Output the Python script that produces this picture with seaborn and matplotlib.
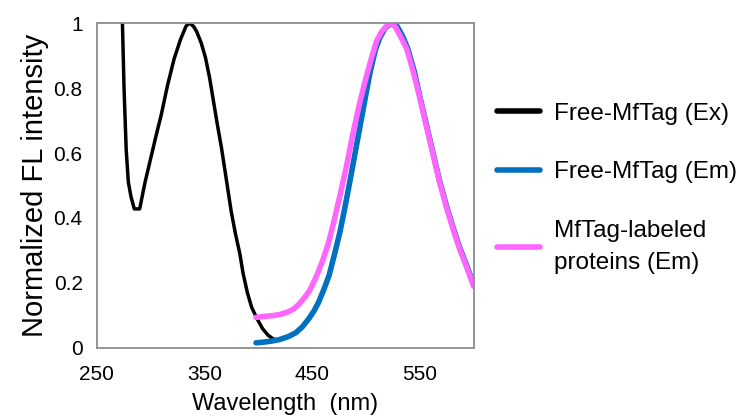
import numpy as np
import pandas as pd
import matplotlib
matplotlib.use("Agg")
import matplotlib.pyplot as plt
import seaborn as sns

# =========================
# DATA
# =========================
ex_nm = [272, 274, 275.5, 277.5, 279.5, 282, 285, 290, 295, 300, 305, 310, 316, 322,
         328, 333, 336, 340, 343, 347, 351, 355, 358, 362, 366, 369, 372, 375, 379,
         383, 386, 390, 394, 399, 404, 409, 413, 416]
ex_val = [1.2, 1.0, 0.80, 0.61, 0.51, 0.465, 0.428, 0.428, 0.51, 0.58, 0.65, 0.717, 0.81,
          0.89, 0.95, 0.99, 1.0, 0.99, 0.973, 0.94, 0.895, 0.83, 0.77, 0.69, 0.615, 0.55,
          0.485, 0.42, 0.35, 0.29, 0.23, 0.17, 0.125, 0.09, 0.06, 0.04, 0.03, 0.025]

em_nm = [398, 405, 412, 420, 428, 435, 441, 447, 452, 456, 461, 466, 471, 476, 481, 485,
         490, 495, 500, 504, 509, 513, 518, 524, 529, 534, 539, 545, 550, 556, 562, 568,
         575, 581, 587, 594, 600]
em_val = [0.016, 0.018, 0.021, 0.026, 0.035, 0.047, 0.065, 0.09, 0.115, 0.14, 0.18, 0.225,
          0.29, 0.358, 0.44, 0.51, 0.6, 0.69, 0.78, 0.85, 0.92, 0.955, 0.985, 1.0, 0.99,
          0.96, 0.92, 0.85, 0.775, 0.69, 0.605, 0.52, 0.435, 0.37, 0.31, 0.25, 0.195]

lab_nm = [398, 405, 412, 420, 427, 433, 438, 443, 448, 454, 460, 465, 470, 476, 482, 488,
          494, 500, 505, 510, 515, 522, 527, 532, 538, 544, 550, 556, 562, 568, 575, 581,
          587, 594, 600]
lab_val = [0.094, 0.097, 0.099, 0.103, 0.11, 0.12, 0.135, 0.155, 0.178, 0.22, 0.27, 0.32,
           0.385, 0.47, 0.56, 0.66, 0.75, 0.83, 0.89, 0.945, 0.975, 1.0, 0.99, 0.96, 0.92,
           0.85, 0.77, 0.685, 0.6, 0.515, 0.43, 0.365, 0.305, 0.245, 0.19]

labels = ["Free-MfTag (Ex)", "Free-MfTag (Em)", "MfTag-labeled\nproteins (Em)"]
colors = ["black", "#0070C0", "#FF66FF"]

x_ticks = [250, 350, 450, 550]
y_ticks = [0, 0.2, 0.4, 0.6, 0.8, 1]
y_ticklabels = ["0", "0.2", "0.4", "0.6", "0.8", "1"]

# =========================
# STYLE
# =========================
sns.set_style("white")
plt.rcParams["font.family"] = ["Liberation Sans", "DejaVu Sans"]
plt.rcParams["text.color"] = "black"
plt.rcParams["axes.labelcolor"] = "black"
plt.rcParams["xtick.labelcolor"] = "black"
plt.rcParams["ytick.labelcolor"] = "black"

fig = plt.figure(figsize=(7.4, 4.17), dpi=100)
ax = fig.add_axes([0.1305, 0.1655, 0.5095, 0.7793])

sns.lineplot(x=ex_nm, y=ex_val, color=colors[0], lw=2.5, label=labels[0], ax=ax)
sns.lineplot(x=em_nm, y=em_val, color=colors[1], lw=4, label=labels[1], ax=ax)
sns.lineplot(x=lab_nm, y=lab_val, color=colors[2], lw=4, label=labels[2], ax=ax)

ax.set_xlim(250, 600)
ax.set_ylim(0, 1)
ax.set_xticks(x_ticks)
ax.set_yticks(y_ticks)
ax.set_yticklabels(y_ticklabels)
ax.tick_params(axis="both", direction="in", length=6, width=1, color="#808080",
               labelcolor="black", labelsize=15, pad=10)
ax.tick_params(axis="x", pad=12)

for s in ax.spines.values():
    s.set_color("#8c8c8c")
    s.set_linewidth(1.3)

ax.set_xlabel("Wavelength  (nm)", fontsize=17, labelpad=7, color="black")
ax.set_ylabel("Normalized FL intensity", fontsize=21, labelpad=3, color="black")

leg = ax.legend(loc="upper left", bbox_to_anchor=(1.003, 0.822), frameon=False,
                fontsize=17.5, handlelength=1.8, handletextpad=0.55, labelspacing=1.5)
for h in leg.get_lines():
    h.set_linewidth(4)
for t in leg.get_texts():
    t.set_color("black")
leg.get_texts()[2].set_linespacing(1.6)

fig.savefig("out.png", dpi=100)
